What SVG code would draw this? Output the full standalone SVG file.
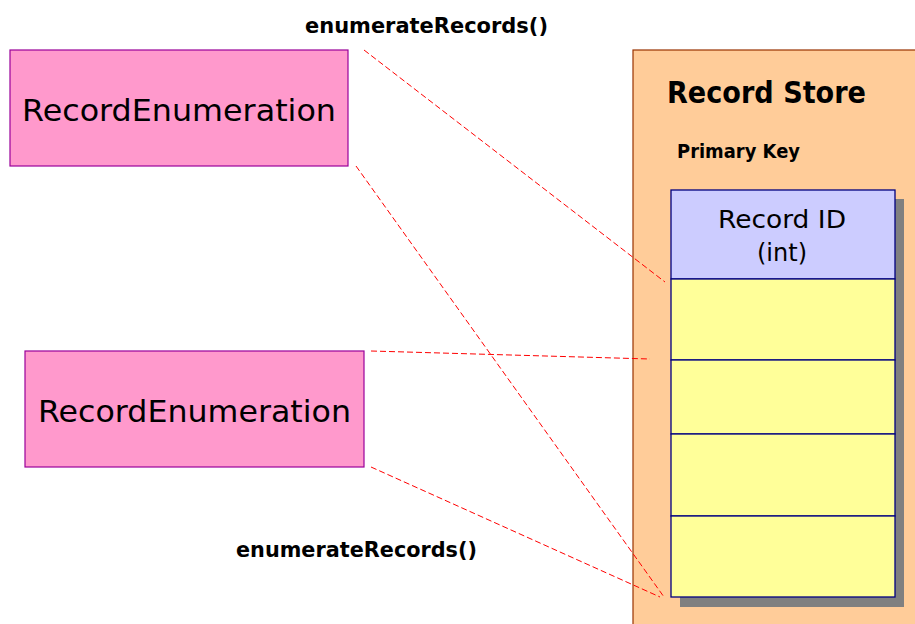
<svg xmlns="http://www.w3.org/2000/svg" width="915" height="624" viewBox="0 0 915 624">
<style>
.enum rect{fill:#FF99CC;stroke:#990099;stroke-width:1.2}
.enum text{font-family:"DejaVu Sans",sans-serif;font-size:31px;fill:#000}
.lbl{font-family:"DejaVu Sans",sans-serif;font-weight:bold;fill:#000}
.conn line{stroke:#FF0000;stroke-width:1;stroke-dasharray:6,3;fill:none}
.row{fill:#FFFF99;stroke:#000080;stroke-width:1.3}
</style>
<rect width="915" height="624" fill="#FFFFFF"/>
<g id="record-store">
<rect x="633" y="50" width="300" height="600" fill="#FFCC99" stroke="#993300" stroke-width="1.2"/>
<text class="lbl" x="667" y="103" font-size="30" textLength="199" lengthAdjust="spacingAndGlyphs">Record Store</text>
<text class="lbl" x="677" y="158" font-size="19" textLength="123" lengthAdjust="spacingAndGlyphs">Primary Key</text>
</g>
<g id="table">
<rect x="680" y="199" width="224" height="408" fill="#808080"/>
<rect x="671" y="190" width="224" height="89" fill="#CCCCFF" stroke="#000080" stroke-width="1.3"/>
<rect class="row" x="671" y="279" width="224" height="81"/>
<rect class="row" x="671" y="360" width="224" height="74"/>
<rect class="row" x="671" y="434" width="224" height="82"/>
<rect class="row" x="671" y="516" width="224" height="81"/>
<text x="782" y="228" font-family="DejaVu Sans,sans-serif" font-size="24" text-anchor="middle" textLength="128" lengthAdjust="spacingAndGlyphs" fill="#000">Record ID</text>
<text x="782" y="261" font-family="DejaVu Sans,sans-serif" font-size="24" text-anchor="middle" fill="#000">(int)</text>
</g>
<g id="enum1" class="enum">
<rect x="10" y="50" width="338" height="116"/>
<text x="22" y="121" textLength="314" lengthAdjust="spacingAndGlyphs">RecordEnumeration</text>
</g>
<g id="enum2" class="enum">
<rect x="25" y="351" width="339" height="116"/>
<text x="38" y="422" textLength="313" lengthAdjust="spacingAndGlyphs">RecordEnumeration</text>
</g>
<g id="labels">
<text class="lbl" x="305" y="33" font-size="20.5" textLength="243" lengthAdjust="spacingAndGlyphs">enumerateRecords()</text>
<text class="lbl" x="236" y="557" font-size="20.5" textLength="241" lengthAdjust="spacingAndGlyphs">enumerateRecords()</text>
</g>
<g id="connectors" class="conn">
<line x1="364" y1="50" x2="665" y2="282"/>
<line x1="356" y1="166" x2="664" y2="597"/>
<line x1="371" y1="351" x2="650" y2="359"/>
<line x1="371" y1="467" x2="660" y2="597"/>
</g>
</svg>
